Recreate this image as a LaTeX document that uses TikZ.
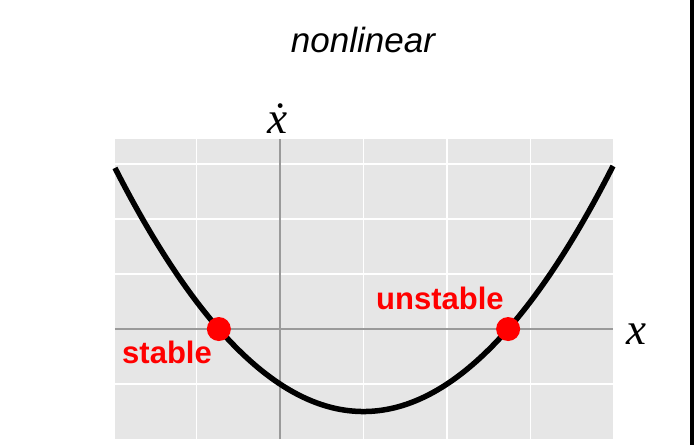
\documentclass[tikz,border=0pt]{standalone}
\usepackage{fontspec}
\setmainfont{Liberation Serif}
\setsansfont{Liberation Sans}
\usepackage{tikz}
\usetikzlibrary{positioning, calc}
\definecolor{panel}{HTML}{E6E6E6}
\definecolor{axisgray}{HTML}{9A9A9A}
\definecolor{fixred}{HTML}{FF0000}

\begin{document}
\begin{tikzpicture}[
  x=83.5pt, y=55pt,
  gridline/.style={white, line width=1.6pt},
  axisline/.style={axisgray, line width=1.6pt},
  curve/.style={black, line width=5.5pt},
  fixpt/.style={circle, fill=fixred, inner sep=0pt, minimum size=24pt},
  fixlabel/.style={text=fixred, font=\fontsize{31}{31}\selectfont\sffamily\bfseries, inner sep=0pt, anchor=base},
  axlabel/.style={inner sep=0pt, anchor=base, font=\fontsize{45}{45}\selectfont\itshape}
]
  \useasboundingbox (-3.353,-2.109) rectangle (4.958,5.982);

  % Panel and grid
  \fill[panel] (-1.976,-2.0) rectangle (3.988,3.455);
  \foreach \gx in {-1,1,2,3} {
    \draw[gridline] (\gx,-2.0) -- (\gx,3.455);
  }
  \foreach \gy in {-1,1,2,3} {
    \draw[gridline] (-1.976,\gy) -- (3.988,\gy);
  }

  % Axes
  \draw[axisline] (-1.976,0) -- (3.988,0);
  \draw[axisline] (0,-2.0) -- (0,3.455);

  % Curve
  \draw[curve] plot[domain=-1.976:3.988, samples=100, smooth] (\x, {0.5*(\x-1)^2-1.5});

  % Fixed points
  \node[fixpt] (stab) at ({1-sqrt(3)},0) {};
  \node[fixpt] (unst) at ({1+sqrt(3)},0) {};
  \node[fixlabel] (stablbl) at (-1.353,-0.618) {stable};
  \node[fixlabel] (unstlbl) at (1.916,0.364) {unstable};

  % Labels
  \node[axlabel] (xdot) at (-0.03,3.56) {\.{x}};
  \node[axlabel] (xlbl) at (4.275,-0.273) {x};
  \node[inner sep=0pt, anchor=base, font=\fontsize{35}{35}\selectfont\sffamily\itshape] (title) at (0.994,5.036) {nonlinear};

  % Right edge bar
  \fill[black] (4.910,-2.109) rectangle (4.958,5.982);
\end{tikzpicture}
\end{document}
